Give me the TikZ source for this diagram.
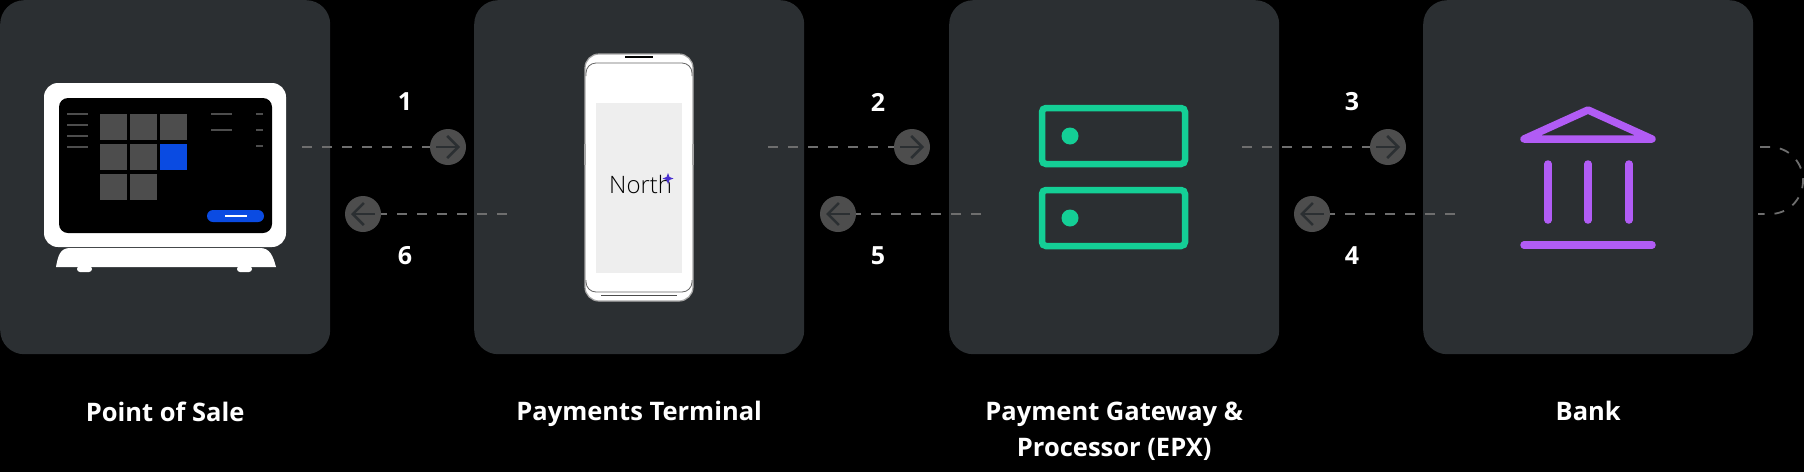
\documentclass[tikz,border=0pt]{standalone}
\usepackage{fontspec}
\setmainfont{Open Sans}
\newfontfamily\logofont{Open Sans Light}
\usetikzlibrary{positioning,arrows.meta}
\usepackage{xcolor}
\definecolor{cardgray}{HTML}{2B2F32}
\definecolor{tilegray}{HTML}{4D4D4D}
\definecolor{dashgray}{HTML}{6E6E6E}
\definecolor{saleblue}{HTML}{0A4BE2}
\definecolor{servergreen}{HTML}{14CF96}
\definecolor{bankpurple}{HTML}{B15CF5}
\definecolor{screengray}{HTML}{EEEEEE}
\definecolor{starblue}{HTML}{4A30D0}

\begin{document}
\begin{tikzpicture}[%
            x=1pt, y=-1pt,
            card/.style={rectangle, fill=cardgray, rounded corners=24pt, minimum width=330pt, minimum height=354pt, inner sep=0pt, anchor=north west},
            caption/.style={text=white, font=\fontsize{25.5}{36}\selectfont\bfseries, align=center, inner sep=0pt, anchor=north},
            stepnum/.style={text=white, font=\fontsize{25}{25}\selectfont\bfseries, inner sep=0pt},
            bubble/.style={circle, fill=tilegray, minimum size=36pt, inner sep=0pt},
            link/.style={dashgray, line width=1.8pt, dash pattern=on 10pt off 10pt},
            glyph/.style={-{Straight Barb[length=11pt,width=22pt,line width=2.6pt]}, cardgray, line width=2.6pt},
            tile/.style={fill=tilegray},
            rowline/.style={tilegray, line width=1.6pt},
            serverbox/.style={servergreen, line width=6.5pt, rounded corners=4pt},
            bankline/.style={bankpurple, line width=7.5pt, line cap=round, line join=round}
        ]
        \useasboundingbox (0,0) rectangle (1804,472);
        \fill[black] (0,0) rectangle (1804,472);

        % Cards
        \node[card] (pos) at (0,0) {};
        \node[card] (terminal) at (474,0) {};
        \node[card] (gateway) at (949,0) {};
        \node[card] (bank) at (1423,0) {};

        % Captions
        \node[caption] (poslabel) [below=47pt of pos] {Point of Sale};
        \node[caption] (terminallabel) [below=47pt of terminal] {Payments Terminal};
        \node[caption] (gatewaylabel) [below=47pt of gateway] {Payment Gateway \&\\Processor (EPX)};
        \node[caption] (banklabel) [below=47pt of bank] {Bank};

        % Point of sale
        \fill[white, rounded corners=14pt] (44,83) rectangle (286,247);
        \fill[black, rounded corners=9pt] (59,98) rectangle (272,233);
        \fill[white] (56,267) .. controls (58,256) and (60,248) .. (70,248) -- (260,248) .. controls (270,248) and (273,256) .. (276,267) -- cycle;
        \fill[white, rounded corners=3pt] (77,266) rectangle (92,272);
        \fill[white, rounded corners=3pt] (237,266) rectangle (252,272);
        \foreach \x/\y in {100/114,130/114,160/114,100/144,130/144,100/174,130/174}
            \fill[tile] (\x,\y) rectangle +(27,26);
        \fill[saleblue] (160,144) rectangle +(27,26);
        \foreach \y in {114,125,136,147}
            \draw[rowline] (67,\y) -- (88,\y);
        \foreach \y in {114,130}
            \draw[rowline] (211,\y) -- (232,\y);
        \foreach \y in {114,130,146}
            \draw[rowline] (256,\y) -- (263,\y);
        \fill[saleblue, rounded corners=6pt] (207,210) rectangle (264,222);
        \draw[white, line width=2pt] (225,216) -- (247,216);

        % Terminal
        \draw[gray!70, fill=white, line width=1.2pt, rounded corners=14pt] (585,54) rectangle (693,301);
        \fill[gray!70] (584,144) rectangle (586,165);
        \fill[gray!70] (692,144) rectangle (694,165);
        \draw[black!60, line width=.8pt, rounded corners=10pt] (586,76) -- (586,63) -- (692,63) -- (692,76);
        \draw[black!60, line width=.8pt, rounded corners=10pt] (586,280) -- (586,292) -- (692,292) -- (692,280);
        \draw[black, line width=2.2pt] (625,57) -- (653,57);
        \draw[black!70, line width=1pt] (601,295) -- (677,295);
        \fill[screengray] (596,103) rectangle (682,273);
        \node[text=black, font=\fontsize{24}{24}\selectfont\logofont, inner sep=0pt, anchor=base west] (logo) at (609,193) {North};
        \fill[starblue] (668,173) -- (669.5,177) -- (673.5,178.5) -- (669.5,180) -- (668,184) -- (666.5,180) -- (662.5,178.5) -- (666.5,177) -- cycle;

        % Server
        \draw[serverbox] (1042,108) rectangle (1185,164);
        \draw[serverbox] (1042,190) rectangle (1185,246);
        \fill[servergreen] (1070,136) circle (8.5);
        \fill[servergreen] (1070,218) circle (8.5);

        % Bank building
        \draw[bankline] (1524,139) -- (1588,110) -- (1652,139) -- cycle;
        \draw[bankline] (1548,164) -- (1548,220);
        \draw[bankline] (1588,164) -- (1588,220);
        \draw[bankline] (1629,164) -- (1629,220);
        \draw[bankline] (1524,245) -- (1652,245);

        % Forward arrows
        \coordinate (start1) at (302,147);
        \coordinate (start2) at (768,147);
        \coordinate (start3) at (1242,147);
        \node[bubble] (arrow1) at (448,147) {};
        \node[bubble] (arrow2) at (912,147) {};
        \node[bubble] (arrow3) at (1388,147) {};
        \draw[link] (start1) -- (arrow1);
        \draw[link] (start2) -- (arrow2);
        \draw[link] (start3) -- (arrow3);
        \foreach \n in {arrow1,arrow2,arrow3}
            \draw[glyph] ([xshift=-12pt]\n.center) -- ([xshift=12pt]\n.center);

        % Return arrows
        \coordinate (start4) at (1455,214);
        \coordinate (start5) at (981,214);
        \coordinate (start6) at (507,214);
        \node[bubble] (arrow4) at (1312,214) {};
        \node[bubble] (arrow5) at (838,214) {};
        \node[bubble] (arrow6) at (363,214) {};
        \draw[link] (start4) -- (arrow4);
        \draw[link] (start5) -- (arrow5);
        \draw[link] (start6) -- (arrow6);
        \foreach \n in {arrow4,arrow5,arrow6}
            \draw[glyph] ([xshift=12pt]\n.center) -- ([xshift=-12pt]\n.center);

        % Step numbers
        \node[stepnum] (num1) at (405,102) {1};
        \node[stepnum] (num2) at (878,102) {2};
        \node[stepnum] (num3) at (1352,102) {3};
        \node[stepnum] (num4) at (1352,256) {4};
        \node[stepnum] (num5) at (878,256) {5};
        \node[stepnum] (num6) at (405,256) {6};

        % Loop past the bank
        \coordinate (loopin) at (1760,147);
        \coordinate (loopout) at (1758,214);
        \draw[link] (loopin) -- (1770,147) .. controls (1788.5,147) and (1803,162) .. (1803,180.5) .. controls (1803,199) and (1788.5,214) .. (1770,214) -- (loopout);

\end{tikzpicture}
\end{document}
